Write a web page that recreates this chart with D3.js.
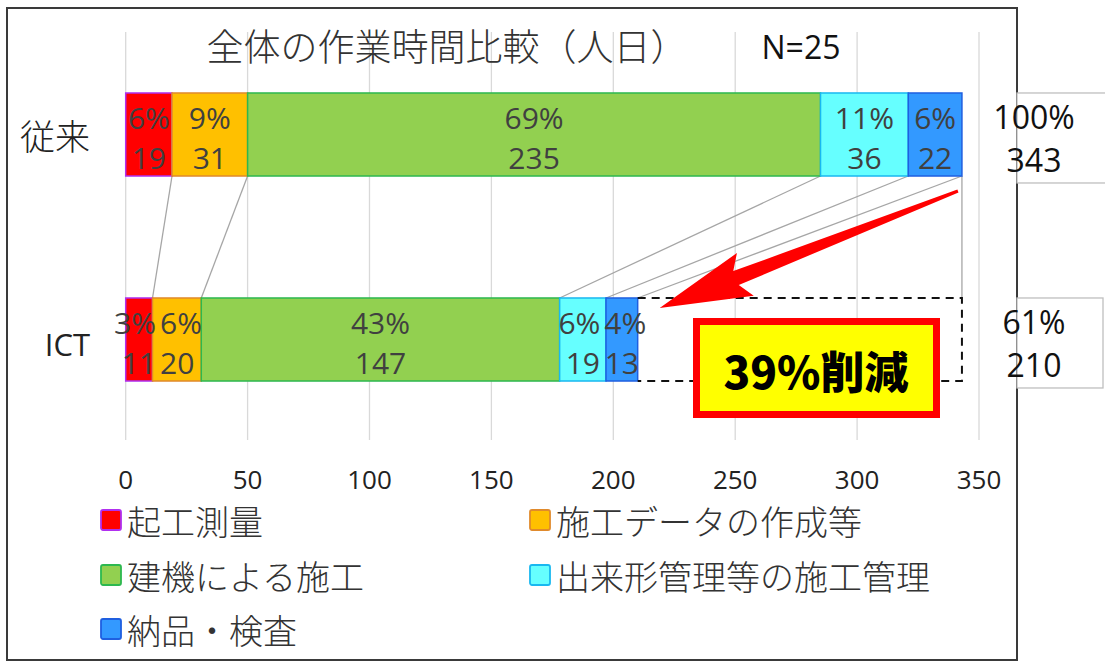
<!DOCTYPE html>
<html>
<head>
<meta charset="utf-8">
<script src="https://cdn.jsdelivr.net/npm/d3@7"></script>
<style>
  body { margin: 0; background: #fff; }
  svg text { font-family: "Open Sans", "Noto Sans CJK JP", sans-serif; }
</style>
</head>
<body>
<div id="chart"></div>
<script>
// dati
const categories = ["従来", "ICT"];
const seriesNames = ["起工測量", "施工データの作成等", "建機による施工", "出来形管理等の施工管理", "納品・検査"];
const valuesJuurai = [19, 31, 235, 36, 22];
const valuesICT = [11, 20, 147, 19, 13];
const pctJuurai = ["6%", "9%", "69%", "11%", "6%"];
const pctICT = ["3%", "6%", "43%", "6%", "4%"];
const totals = [343, 210];
const totalPct = ["100%", "61%"];
const xTicks = [0, 50, 100, 150, 200, 250, 300, 350];
const fills = ["#FF0000", "#FFC000", "#92D050", "#66FFFF", "#3399FF"];
const strokes = ["#B030F0", "#E08A2C", "#2DB84F", "#19B8F0", "#1F5FE0"];

const width = 1105, height = 663;

const svg = d3.select("#chart").append("svg")
    .attr("width", width)
    .attr("height", height);

const x = d3.scaleLinear().domain([0, 350]).range([125.7, 979]);
const y = d3.scaleBand().domain(categories).range([32, 442])
    .paddingInner(0.595).paddingOuter(0.2975);

// cornice esterna
svg.append("rect")
    .attr("x", 7).attr("y", 8)
    .attr("width", 1010).attr("height", 652)
    .attr("fill", "#fff")
    .attr("stroke", "#3a3a3a")
    .attr("stroke-width", 2);

// griglia verticale
svg.append("g").selectAll("line")
    .data(xTicks)
    .enter().append("line")
    .attr("x1", d => x(d)).attr("x2", d => x(d))
    .attr("y1", 32).attr("y2", 440)
    .attr("stroke", "#D9D9D9")
    .attr("stroke-width", 1.3);

// etichette asse x
svg.append("g").selectAll("text")
    .data(xTicks)
    .enter().append("text")
    .attr("x", d => x(d))
    .attr("y", 479)
    .attr("text-anchor", "middle")
    .attr("dominant-baseline", "central")
    .attr("font-size", 26)
    .attr("fill", "#222")
    .text(d => d);

// stack dei dati
const rows = [valuesJuurai, valuesICT].map((vals, i) => {
    let acc = 0;
    return vals.map((v, j) => {
        const seg = { cat: categories[i], idx: j, v: v, x0: acc, x1: acc + v, pct: (i === 0 ? pctJuurai : pctICT)[j] };
        acc += v;
        return seg;
    });
});

// linee di serie tra le due barre
const seriesLines = d3.range(5).map(j => ({ a: rows[0][j].x1, b: rows[1][j].x1 }));
svg.append("g").selectAll("line")
    .data(seriesLines)
    .enter().append("line")
    .attr("x1", d => x(d.a))
    .attr("y1", y("従来") + y.bandwidth())
    .attr("x2", d => x(d.b))
    .attr("y2", y("ICT"))
    .attr("stroke", "#A6A6A6")
    .attr("stroke-width", 1.3);

// linea verticale al totale
svg.append("line")
    .attr("x1", x(totals[0])).attr("x2", x(totals[0]))
    .attr("y1", y("従来") + y.bandwidth()).attr("y2", y("ICT"))
    .attr("stroke", "#A6A6A6")
    .attr("stroke-width", 1.3);

// barre
const allSegs = rows.flat();
svg.append("g").selectAll("rect")
    .data(allSegs)
    .enter().append("rect")
    .attr("x", d => x(d.x0))
    .attr("y", d => y(d.cat))
    .attr("width", d => x(d.x1) - x(d.x0))
    .attr("height", y.bandwidth())
    .attr("fill", d => fills[d.idx])
    .attr("stroke", d => strokes[d.idx])
    .attr("stroke-width", 1.5);

// etichette dentro le barre
const lbl = svg.append("g").attr("fill", "#404040").attr("font-size", 30).attr("text-anchor", "middle");
const pctText = lbl.selectAll("text.pct")
    .data(allSegs)
    .enter().append("text")
    .attr("class", "pct")
    .attr("x", d => (x(d.x0) + x(d.x1)) / 2)
    .attr("y", d => y(d.cat) + y.bandwidth() * 0.29)
    .attr("dominant-baseline", "central")
    .text(d => d.pct);
const valText = lbl.selectAll("text.val")
    .data(allSegs)
    .enter().append("text")
    .attr("class", "val")
    .attr("x", d => (x(d.x0) + x(d.x1)) / 2)
    .attr("y", d => y(d.cat) + y.bandwidth() * 0.78)
    .attr("dominant-baseline", "central")
    .text(d => d.v);

// allontana le etichette che si toccano (segmenti stretti)
function spreadLabels(sel) {
    categories.forEach(c => {
        const nodes = sel.filter(d => d.cat === c).nodes();
        const shift = nodes.map(() => 0);
        for (let k = 0; k < nodes.length - 1; k++) {
            const a = nodes[k], b = nodes[k + 1];
            const ax = +a.getAttribute("x") + shift[k], bx = +b.getAttribute("x") + shift[k + 1];
            const gap = (bx - b.getComputedTextLength() / 2) - (ax + a.getComputedTextLength() / 2);
            if (gap < 4) {
                const need = 4 - gap;
                shift[k] -= need / 2;
                shift[k + 1] += need / 2;
            }
        }
        nodes.forEach((n, k) => n.setAttribute("x", +n.getAttribute("x") + shift[k]));
    });
}
spreadLabels(pctText);
spreadLabels(valText);

// riquadro tratteggiato della riduzione
const dx0 = x(totals[1]), dx1 = x(totals[0]);
const dy0 = y("ICT"), dy1 = y("ICT") + y.bandwidth();
svg.append("path")
    .attr("d", `M${dx0},${dy0} H${dx1} V${dy1} H${dx0}`)
    .attr("fill", "none")
    .attr("stroke", "#111")
    .attr("stroke-width", 2)
    .attr("stroke-dasharray", "8,6");

// freccia rossa
function arrowPoints(tail, tip) {
    const vx = tip[0] - tail[0], vy = tip[1] - tail[1];
    const len = Math.sqrt(vx * vx + vy * vy);
    const ux = vx / len, uy = vy / len;
    const nx = -uy, ny = ux;
    const headLen = 92, headHalf = 23, shaftHead = 7.5, shaftTail = 1.5;
    const bx = tip[0] - ux * headLen, by = tip[1] - uy * headLen;
    const jx = tip[0] - ux * (headLen - 10), jy = tip[1] - uy * (headLen - 10);
    return [
        [tail[0] + nx * shaftTail, tail[1] + ny * shaftTail],
        [jx + nx * shaftHead, jy + ny * shaftHead],
        [bx + nx * headHalf, by + ny * headHalf],
        tip,
        [bx - nx * headHalf, by - ny * headHalf],
        [jx - nx * shaftHead, jy - ny * shaftHead],
        [tail[0] - nx * shaftTail, tail[1] - ny * shaftTail]
    ];
}
const arrow = arrowPoints([x(totals[0]) - 4, 191], [x(totals[1]) + 22, 308]);
svg.append("polygon")
    .attr("points", arrow.map(p => p.join(",")).join(" "))
    .attr("fill", "#FF0000");

// box giallo "39%削減"
svg.append("rect")
    .attr("x", 696.5).attr("y", 321.5)
    .attr("width", 240).attr("height", 93)
    .attr("fill", "#FFFF00")
    .attr("stroke", "#FF0000")
    .attr("stroke-width", 7);
svg.append("text")
    .attr("x", 816).attr("y", 370)
    .attr("text-anchor", "middle")
    .attr("dominant-baseline", "central")
    .attr("font-size", 44)
    .attr("font-weight", 900)
    .style("font-family", "'Noto Sans CJK JP', sans-serif")
    .attr("fill", "#000")
    .text("39%削減");

// totali a destra
const totGroup = svg.append("g");
categories.forEach((c, i) => {
    totGroup.append("rect")
        .attr("x", 1017).attr("y", y(c))
        .attr("width", i === 0 ? 95 : 86)
        .attr("height", 90)
        .attr("fill", "#fff")
        .attr("stroke", "#BFBFBF")
        .attr("stroke-width", 1.3);
    totGroup.append("text")
        .attr("x", 1034).attr("y", y(c) + 24)
        .attr("text-anchor", "middle")
        .attr("dominant-baseline", "central")
        .attr("font-size", 32)
        .attr("fill", "#111")
        .text(totalPct[i]);
    totGroup.append("text")
        .attr("x", 1034).attr("y", y(c) + 67)
        .attr("text-anchor", "middle")
        .attr("dominant-baseline", "central")
        .attr("font-size", 32)
        .attr("fill", "#111")
        .text(totals[i]);
});

// etichette categorie
svg.append("g").selectAll("text")
    .data(categories)
    .enter().append("text")
    .attr("x", 90)
    .attr("y", d => y(d) + y.bandwidth() / 2 + (d === "ICT" ? 4 : 0))
    .attr("text-anchor", "end")
    .attr("dominant-baseline", "central")
    .attr("font-size", d => d === "ICT" ? 31 : 35)
    .style("font-family", d => d === "ICT" ? null : "'Noto Sans CJK JP', sans-serif")
    .attr("font-weight", d => d === "ICT" ? 400 : 300)
    .attr("fill", "#222")
    .text(d => d);

// titolo
svg.append("text")
    .attr("x", 447).attr("y", 45)
    .attr("text-anchor", "middle")
    .attr("dominant-baseline", "central")
    .attr("font-size", 37)
    .style("font-family", "'Noto Sans CJK JP', sans-serif")
    .attr("font-weight", 300)
    .attr("fill", "#333")
    .text("全体の作業時間比較（人日）");
svg.append("text")
    .attr("x", 801).attr("y", 46)
    .attr("text-anchor", "middle")
    .attr("dominant-baseline", "central")
    .attr("font-size", 32)
    .attr("fill", "#111")
    .text("N=25");

// legenda
const legendPos = [[100, 520], [529, 520], [100, 575], [529, 575], [100, 629]];
const legend = svg.append("g").selectAll("g")
    .data(seriesNames)
    .enter().append("g")
    .attr("transform", (d, i) => `translate(${legendPos[i][0]},${legendPos[i][1]})`);
legend.append("rect")
    .attr("x", 1).attr("y", -10)
    .attr("width", 20).attr("height", 20)
    .attr("rx", 2)
    .attr("fill", (d, i) => fills[i])
    .attr("stroke", (d, i) => strokes[i])
    .attr("stroke-width", 1.8);
legend.append("text")
    .attr("x", 27).attr("y", 0)
    .attr("dominant-baseline", "central")
    .attr("font-size", 34)
    .style("font-family", "'Noto Sans CJK JP', sans-serif")
    .attr("font-weight", 300)
    .attr("fill", "#333")
    .text(d => d);
</script>
</body>
</html>
